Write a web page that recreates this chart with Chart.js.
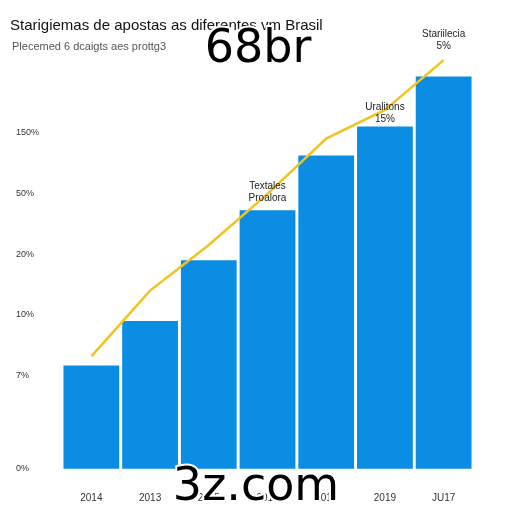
<!DOCTYPE html>
<html><head><meta charset="utf-8">
<script src="https://cdn.jsdelivr.net/npm/chart.js@4/dist/chart.umd.min.js"></script>
<style>html,body{margin:0;background:#fff}#wrap{width:512px;height:512px}</style>
</head><body><div id="wrap"><canvas id="c" width="512" height="512"></canvas></div>
<script>
const anos = ['2014', '2013', '2015', '2016', '2014', '2019', 'JU17'];
const barras = [1.7, 2.43, 3.43, 4.25, 5.15, 5.63, 6.45];
const linha = [1.85, 2.93, 3.68, 4.52, 5.43, 5.9, 6.72];
const tickPos = [0, 1.53, 2.53, 3.53, 4.53, 5.53];
const tickTxt = ['0%', '7%', '10%', '20%', '50%', '150%'];
const notas = [
    { i: 3, v: 4.6, txt: ['Textales', 'Proalora'] },
    { i: 5, v: 5.9, txt: ['Uralitons', '15%'] },
    { i: 6, v: 7.1, txt: ['Stariilecia', '5%'] }
];

// textos extra: titulo, notas y marcas grandes
const textos = {
    id: 'textos',
    afterDraw(chart) {
        const ctx = chart.ctx, x = chart.scales.x, y = chart.scales.y;
        ctx.save();
        ctx.textAlign = 'left';
        ctx.fillStyle = '#111';
        ctx.font = '15px "Liberation Sans", sans-serif';
        ctx.fillText('Starigiemas de apostas as diferentes vm Brasil', 10, 30);
        ctx.fillStyle = '#555';
        ctx.font = '11px "Liberation Sans", sans-serif';
        ctx.fillText('Plecemed 6 dcaigts aes prottg3', 12, 50);
        ctx.textAlign = 'center';
        ctx.fillStyle = '#222';
        ctx.font = '10px "Liberation Sans", sans-serif';
        notas.forEach(n => {
            const px = x.getPixelForValue(n.i), py = y.getPixelForValue(n.v);
            n.txt.forEach((t, k) => ctx.fillText(t, px, py + k * 12));
        });
        ctx.font = '46px "DejaVu Sans", sans-serif';
        ctx.lineWidth = 4; ctx.strokeStyle = '#fff'; ctx.fillStyle = '#000';
        ctx.strokeText('68br', 258, 62); ctx.fillText('68br', 258, 62);
        ctx.strokeText('3z.com', 256, 500); ctx.fillText('3z.com', 256, 500);
        ctx.restore();
    }
};

new Chart(document.getElementById('c'), {
    data: {
        labels: anos,
        datasets: [
            { type: 'line', data: linha, borderColor: '#f2c31c', borderWidth: 2.5, pointRadius: 0, tension: 0 },
            { type: 'bar', data: barras, backgroundColor: '#0b8de3', categoryPercentage: 1, barPercentage: 0.95 }
        ]
    },
    options: {
        responsive: false,
        animation: false,
        layout: { padding: { top: 37, right: 39, left: 16, bottom: 5 } },
        plugins: { legend: { display: false }, tooltip: { enabled: false } },
        scales: {
            x: { grid: { display: false }, border: { display: false },
                 ticks: { color: '#333', font: { size: 10 } } },
            y: {
                min: -0.2, max: 7.1,
                afterFit: s => { s.width = 46; },
                grid: { display: false }, border: { display: false },
                afterBuildTicks: s => { s.ticks = tickPos.map(v => ({ value: v })); },
                ticks: { color: '#333', font: { size: 9 }, padding: 4, crossAlign: 'far',
                         callback: (v) => tickTxt[tickPos.indexOf(v)] }
            }
        }
    },
    plugins: [textos]
});
</script></body></html>
